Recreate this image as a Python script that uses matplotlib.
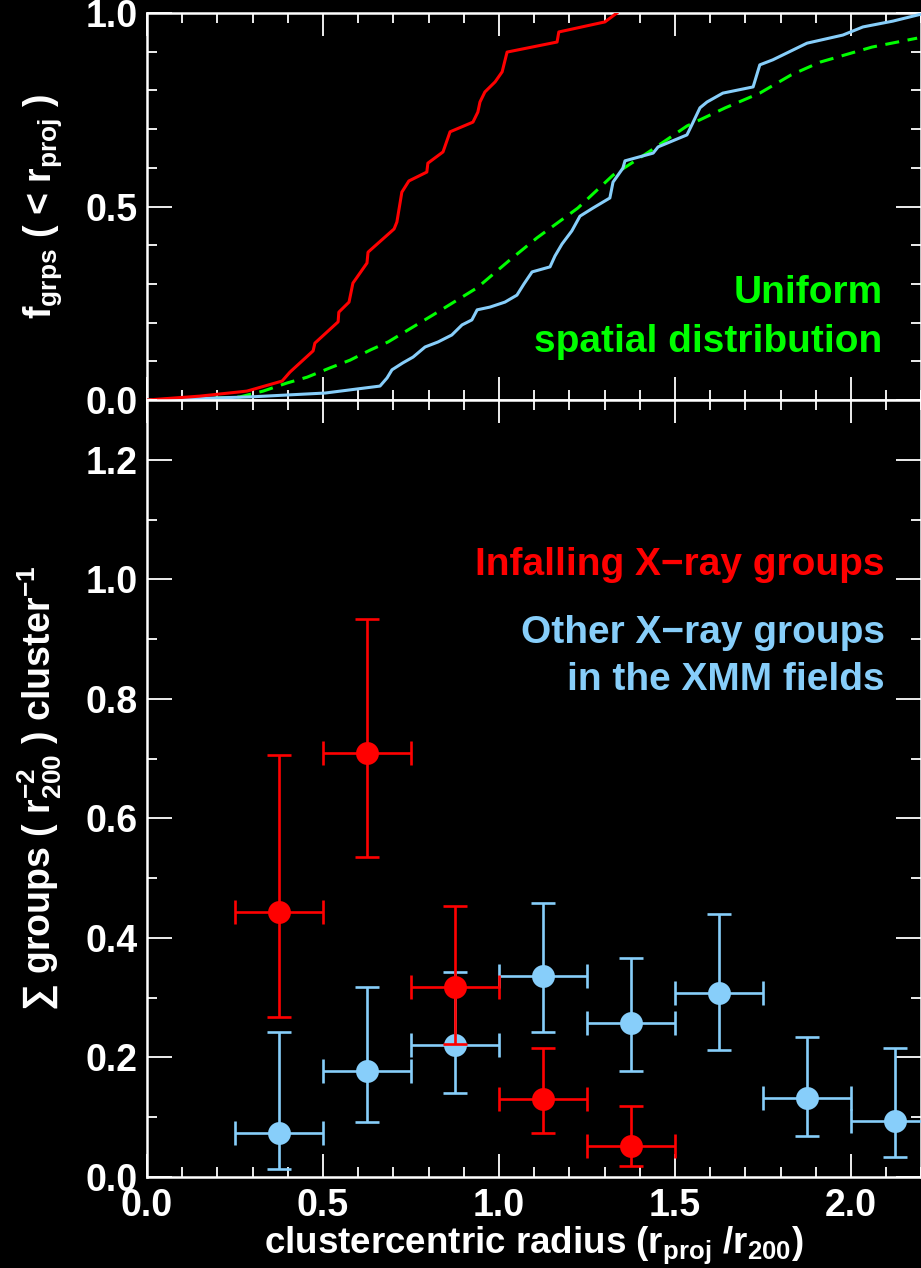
import matplotlib
matplotlib.use("Agg")
import matplotlib.pyplot as plt
from matplotlib.ticker import MultipleLocator

# ---- cumulative fraction of groups within projected radius (top panel) ----
infall_r = [0.0, 0.15, 0.284, 0.384, 0.406, 0.472, 0.477, 0.543, 0.545, 0.574, 0.585,
            0.625, 0.628, 0.702, 0.710, 0.724, 0.744, 0.795, 0.798, 0.841, 0.861,
            0.926, 0.940, 0.946, 0.960, 0.989, 1.009, 1.023, 1.165, 1.170, 1.301, 1.335]
infall_f = [0.0, 0.010, 0.023, 0.049, 0.072, 0.127, 0.147, 0.202, 0.227, 0.253, 0.302,
            0.354, 0.382, 0.442, 0.460, 0.537, 0.566, 0.589, 0.612, 0.641, 0.693,
            0.718, 0.744, 0.770, 0.796, 0.822, 0.848, 0.899, 0.925, 0.951, 0.977, 1.0]

other_r = [0.0, 0.293, 0.506, 0.662, 0.682, 0.696, 0.727, 0.756, 0.790, 0.827, 0.866,
           0.895, 0.923, 0.938, 0.974, 1.017, 1.051, 1.071, 1.094, 1.145, 1.159,
           1.179, 1.207, 1.230, 1.267, 1.315, 1.324, 1.352, 1.358, 1.438, 1.452,
           1.534, 1.548, 1.571, 1.591, 1.636, 1.722, 1.741, 1.778, 1.875, 1.977,
           2.034, 2.119, 2.199]
other_f = [0.0, 0.008, 0.018, 0.036, 0.057, 0.078, 0.096, 0.111, 0.137, 0.150, 0.168,
           0.194, 0.207, 0.233, 0.240, 0.253, 0.271, 0.300, 0.331, 0.344, 0.372,
           0.403, 0.437, 0.475, 0.496, 0.522, 0.563, 0.599, 0.618, 0.638, 0.654,
           0.685, 0.711, 0.755, 0.770, 0.793, 0.809, 0.866, 0.879, 0.922, 0.943,
           0.964, 0.979, 0.997]

uniform_r = [0.0, 0.151, 0.264, 0.330, 0.398, 0.455, 0.520, 0.577, 0.634, 0.685,
             0.813, 0.938, 1.031, 1.108, 1.224, 1.324, 1.424, 1.534, 1.643, 1.741,
             1.830, 1.912, 2.060, 2.188]
uniform_f = [0.0, 0.003, 0.008, 0.023, 0.044, 0.059, 0.083, 0.103, 0.129, 0.150,
             0.220, 0.290, 0.362, 0.419, 0.496, 0.581, 0.640, 0.708, 0.755, 0.793,
             0.840, 0.873, 0.912, 0.935]

# ---- surface density of groups per cluster (bottom panel) ----
infall_x = [0.375, 0.625, 0.875, 1.125, 1.375]
infall_y = [0.443, 0.709, 0.318, 0.130, 0.052]
infall_hi = [0.706, 0.934, 0.454, 0.216, 0.119]
infall_lo = [0.268, 0.535, 0.222, 0.073, 0.018]

other_x = [0.375, 0.625, 0.875, 1.125, 1.375, 1.625, 1.875, 2.125]
other_y = [0.074, 0.178, 0.221, 0.336, 0.257, 0.308, 0.132, 0.094]
other_hi = [0.243, 0.318, 0.343, 0.458, 0.366, 0.440, 0.234, 0.216]
other_lo = [0.013, 0.092, 0.141, 0.243, 0.178, 0.212, 0.069, 0.034]

bin_halfwidth = 0.125

RED = "#ff0000"
BLUE = "#87cefa"
GREEN = "#00ff00"
FG = "white"
FS = 27        # axis labels and tick labels
FS_NOTE = 28   # in-panel annotations

plt.rcParams.update({
    "font.family": ["Liberation Sans", "DejaVu Sans"],
    "font.weight": "bold",
    "mathtext.fontset": "custom",
    "mathtext.rm": "Liberation Sans:bold",
    "mathtext.it": "Liberation Sans:bold",
    "mathtext.bf": "Liberation Sans:bold",
    "mathtext.default": "rm",
    "axes.linewidth": 1.8,
})

fig = plt.figure(figsize=(9.21, 12.68), dpi=100, facecolor="black")
W = 1.0004 - 0.1596
ax_top = fig.add_axes([0.1596, 0.68454, W, 0.30521], facecolor="black")
ax_bot = fig.add_axes([0.1596, 0.07177, W, 0.61278], facecolor="black")

for ax in (ax_top, ax_bot):
    for sp in ax.spines.values():
        sp.set_color(FG)
    ax.set_xlim(0, 2.2)
    ax.xaxis.set_major_locator(MultipleLocator(0.5))
    ax.xaxis.set_minor_locator(MultipleLocator(0.1))
    ax.tick_params(which="both", direction="in", top=True, right=True,
                   colors=FG, labelcolor=FG, labelsize=FS, width=1.3)
    ax.tick_params(axis="x", which="major", length=16.5, pad=8)
    ax.tick_params(axis="y", which="major", length=18, pad=7)
    ax.tick_params(which="minor", length=7.5)
    for lab in ax.get_xticklabels() + ax.get_yticklabels():
        lab.set_fontweight("bold")

# top panel: cumulative distributions
ax_top.set_ylim(0, 1.0)
ax_top.yaxis.set_major_locator(MultipleLocator(0.5))
ax_top.yaxis.set_minor_locator(MultipleLocator(0.1))
ax_top.tick_params(axis="x", labelbottom=False)
ax_top.plot(uniform_r, uniform_f, color=GREEN, lw=2.2, dashes=(4.6, 2.8), zorder=2)
ax_top.plot(other_r, other_f, color=BLUE, lw=2.2, zorder=3)
ax_top.plot(infall_r, infall_f, color=RED, lw=2.2, zorder=4)
ax_top.set_ylabel(r"f$_{grps}$ ( < r$_{proj}$ )", color=FG, fontsize=FS, fontweight="bold")
ax_top.yaxis.set_label_coords(-0.107, 0.5)
ax_top.text(0.95, 0.251, "Uniform", color=GREEN, fontsize=FS_NOTE, fontweight="bold",
            ha="right", va="baseline", transform=ax_top.transAxes)
ax_top.text(0.95, 0.124, "spatial distribution", color=GREEN, fontsize=FS_NOTE,
            fontweight="bold", ha="right", va="baseline", transform=ax_top.transAxes)

# bottom panel: binned surface densities
ax_bot.set_ylim(0, 1.3)
ax_bot.yaxis.set_major_locator(MultipleLocator(0.2))
ax_bot.yaxis.set_minor_locator(MultipleLocator(0.1))
ax_bot.set_yticks([0.0, 0.2, 0.4, 0.6, 0.8, 1.0, 1.2])


def draw_points(x, y, hi, lo, color, z):
    yerr = [[yy - l for yy, l in zip(y, lo)], [h - yy for yy, h in zip(y, hi)]]
    ax_bot.errorbar(x, y, xerr=bin_halfwidth, yerr=yerr, fmt="o", color=color,
                    ms=16.5, mec="none", elinewidth=1.9, capsize=8.3, capthick=1.9,
                    zorder=z, clip_on=False)


draw_points(other_x, other_y, other_hi, other_lo, BLUE, 3)
draw_points(infall_x, infall_y, infall_hi, infall_lo, RED, 4)

ax_bot.set_xlabel(r"clustercentric radius (r$_{proj}$ /r$_{200}$)", color=FG,
                  fontsize=26.5, fontweight="bold", labelpad=0)
ax_bot.set_ylabel(r"$\sum$ groups ( r$_{200}^{-2}$ ) cluster$^{-1}$", color=FG,
                  fontsize=FS, fontweight="bold")
ax_bot.yaxis.set_label_coords(-0.107, 0.5)

ax_bot.text(0.953, 0.775, "Infalling X\u2212ray groups", color=RED, fontsize=FS_NOTE,
            fontweight="bold", ha="right", va="baseline", transform=ax_bot.transAxes)
ax_bot.text(0.953, 0.687, "Other X\u2212ray groups", color=BLUE, fontsize=FS_NOTE,
            fontweight="bold", ha="right", va="baseline", transform=ax_bot.transAxes)
ax_bot.text(0.953, 0.627, "in the XMM fields", color=BLUE, fontsize=FS_NOTE,
            fontweight="bold", ha="right", va="baseline", transform=ax_bot.transAxes)

fig.savefig("out.png", dpi=100, facecolor="black")
